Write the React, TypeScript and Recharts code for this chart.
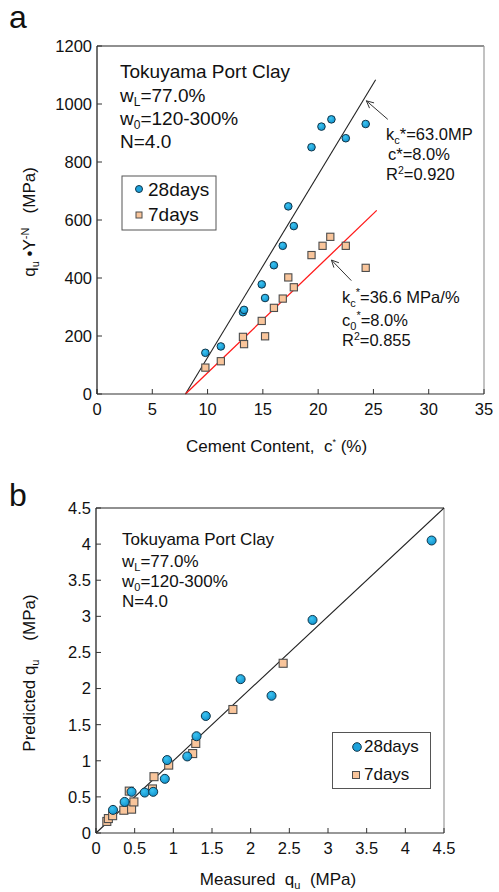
import React from 'react';
import { ScatterChart, Scatter, XAxis, YAxis, ReferenceLine } from 'recharts';

const FONT = '"Liberation Sans", Arial, Helvetica, sans-serif';

// ---- Panel a: q_u·Y^-N against cement content ----
const cement28 = [9.8, 11.2, 13.2, 13.3, 14.9, 15.2, 16.0, 16.8, 17.3, 17.8, 19.4, 20.3, 21.2, 22.5, 24.3];
const strength28 = [142, 164, 282, 290, 378, 331, 444, 511, 647, 579, 851, 922, 947, 882, 931];
const cement7 = [9.8, 11.2, 13.2, 13.3, 14.9, 15.2, 16.0, 16.8, 17.3, 17.8, 19.4, 20.4, 21.1, 22.5, 24.3];
const strength7 = [91, 113, 197, 172, 252, 199, 297, 329, 402, 368, 479, 511, 542, 511, 435];
const cementTicks = [0, 5, 10, 15, 20, 25, 30, 35];
const strengthTicks = [0, 200, 400, 600, 800, 1000, 1200];

// fitted lines: q = k (c - c0), drawn from c0 to cEnd
const fit28 = { k: 63.0, c0: 8.0, cEnd: 25.2 };
const fit7 = { k: 36.6, c0: 8.0, cEnd: 25.3 };

// arrows from the fit annotations to their lines [tail, head]
const arrow28 = [{ x: 26.3, y: 947 }, { x: 24.36, y: 1011 }];
const arrow7 = [{ x: 23.0, y: 391 }, { x: 21.2, y: 462 }];

// ---- Panel b: predicted against measured q_u ----
const measured28 = [0.22, 0.37, 0.46, 0.63, 0.74, 0.89, 0.92, 1.18, 1.30, 1.42, 1.87, 2.27, 2.80, 4.34];
const predicted28 = [0.32, 0.43, 0.57, 0.56, 0.57, 0.75, 1.01, 1.06, 1.34, 1.62, 2.13, 1.90, 2.95, 4.05];
const measured7 = [0.14, 0.16, 0.215, 0.36, 0.46, 0.49, 0.43, 0.73, 0.75, 0.94, 1.25, 1.29, 1.77, 2.42];
const predicted7 = [0.16, 0.2, 0.24, 0.315, 0.33, 0.43, 0.58, 0.61, 0.78, 0.94, 1.10, 1.24, 1.71, 2.35];
const quTicks = [0, 0.5, 1, 1.5, 2, 2.5, 3, 3.5, 4, 4.5];

const toPoints = (xs: number[], ys: number[]) => xs.map((x, i) => ({ x, y: ys[i] }));

const BLUE = '#1ea2db';
const BLUE_EDGE = '#103549';
const PEACH = '#f9c59b';
const PEACH_EDGE = '#4d4d4d';

const circleShape = (r: number) => (p: any) => (
  <circle cx={p.cx} cy={p.cy} r={r} fill="url(#ballFill)" stroke={BLUE_EDGE} strokeWidth={1} />
);
const squareShape = (s: number) => (p: any) => (
  <rect x={p.cx - s / 2} y={p.cy - s / 2} width={s} height={s} fill={PEACH} stroke={PEACH_EDGE} strokeWidth={1.1} />
);

const arrowShape = (p: any) => {
  const { x1, y1, x2, y2 } = p;
  const a = Math.atan2(y2 - y1, x2 - x1);
  const L = 8;
  const s = 0.45;
  return (
    <g stroke="#333" strokeWidth={1} fill="none">
      <line x1={x1} y1={y1} x2={x2} y2={y2} />
      <polyline
        points={`${x2 - L * Math.cos(a - s)},${y2 - L * Math.sin(a - s)} ${x2},${y2} ${x2 - L * Math.cos(a + s)},${y2 - L * Math.sin(a + s)}`}
      />
    </g>
  );
};

const tickStyle = { fill: '#111', fontSize: 16.5, fontFamily: FONT };

function PanelA() {
  const d28 = toPoints(cement28, strength28);
  const d7 = toPoints(cement7, strength7);
  return (
    <ScatterChart width={499} height={470} margin={{ top: 46, right: 15, bottom: 0, left: 0 }}>
      <defs>
        <radialGradient id="ballFill" cx="40%" cy="35%" r="70%">
          <stop offset="0%" stopColor="#3cc4f2" />
          <stop offset="100%" stopColor="#0f8fca" />
        </radialGradient>
      </defs>
      <XAxis
        type="number" dataKey="x" domain={[0, 35]} ticks={cementTicks} interval={0}
        height={76} tickSize={-5} tickMargin={14}
        axisLine={{ stroke: '#333', strokeWidth: 1.2 }} tickLine={{ stroke: '#333' }} tick={tickStyle}
      />
      <YAxis
        type="number" dataKey="y" domain={[0, 1200]} ticks={strengthTicks} interval={0}
        width={97} tickSize={-5} tickMargin={10}
        axisLine={{ stroke: '#111', strokeWidth: 1.2 }} tickLine={{ stroke: '#333' }} tick={tickStyle}
      />
      <ReferenceLine y={1200} stroke="#222" strokeWidth={1.2} />
      <ReferenceLine x={35} stroke="#999" strokeWidth={1.2} />
      <ReferenceLine
        segment={[{ x: fit28.c0, y: 0 }, { x: fit28.cEnd, y: fit28.k * (fit28.cEnd - fit28.c0) }]}
        stroke="#222" strokeWidth={1.1}
      />
      <ReferenceLine
        segment={[{ x: fit7.c0, y: 0 }, { x: fit7.cEnd, y: fit7.k * (fit7.cEnd - fit7.c0) }]}
        stroke="#ff1a1a" strokeWidth={1.3}
      />
      <ReferenceLine segment={arrow28} shape={arrowShape} />
      <ReferenceLine segment={arrow7} shape={arrowShape} />
      <Scatter data={d28} shape={circleShape(3.8)} isAnimationActive={false} />
      <Scatter data={d7} shape={squareShape(7.2)} isAnimationActive={false} />
    </ScatterChart>
  );
}

function PanelB() {
  const d28 = toPoints(measured28, predicted28);
  const d7 = toPoints(measured7, predicted7);
  return (
    <ScatterChart width={499} height={422} margin={{ top: 38, right: 55, bottom: 0, left: 0 }}>
      <XAxis
        type="number" dataKey="x" domain={[0, 4.5]} ticks={quTicks} interval={0}
        height={59} tickSize={-5} tickMargin={14}
        axisLine={{ stroke: '#333', strokeWidth: 1.2 }} tickLine={{ stroke: '#333' }} tick={tickStyle}
      />
      <YAxis
        type="number" dataKey="y" domain={[0, 4.5]} ticks={quTicks} interval={0}
        width={96} tickSize={-5} tickMargin={10}
        axisLine={{ stroke: '#111', strokeWidth: 1.2 }} tickLine={{ stroke: '#333' }} tick={tickStyle}
      />
      <ReferenceLine y={4.5} stroke="#222" strokeWidth={1.2} />
      <ReferenceLine x={4.5} stroke="#999" strokeWidth={1.2} />
      <ReferenceLine segment={[{ x: 0, y: 0 }, { x: 4.5, y: 4.5 }]} stroke="#222" strokeWidth={1.1} />
      <Scatter data={d7} shape={squareShape(8)} isAnimationActive={false} />
      <Scatter data={d28} shape={circleShape(4.5)} isAnimationActive={false} />
    </ScatterChart>
  );
}

const pre: React.CSSProperties = { whiteSpace: 'pre' };

function Annotations() {
  return (
    <svg width={499} height={892} style={{ position: 'absolute', left: 0, top: 0, pointerEvents: 'none' }}
      fontFamily={FONT} fill="#111">
      {/* panel letters */}
      <text x={9} y={28} fontSize={32}>a</text>
      <text x={9} y={506} fontSize={32}>b</text>

      {/* panel a: description */}
      <g fontSize={19}>
        <text x={120} y={78}>Tokuyama Port Clay</text>
        <text x={120} y={102}>w<tspan fontSize={12} dy={4}>L</tspan><tspan dy={-4}>=77.0%</tspan></text>
        <text x={120} y={125}>w<tspan fontSize={12} dy={4}>0</tspan><tspan dy={-4}>=120-300%</tspan></text>
        <text x={120} y={148}>N=4.0</text>
      </g>
      {/* panel a: legend */}
      <rect x={122} y={176} width={94} height={54} fill="#fff" stroke="#555" strokeWidth={1} />
      <circle cx={139} cy={189} r={3.5} fill={BLUE} stroke={BLUE_EDGE} strokeWidth={1} />
      <rect x={136} y={212} width={6} height={6} fill={PEACH} stroke={PEACH_EDGE} strokeWidth={1} />
      <text x={148} y={196} fontSize={19}>28days</text>
      <text x={148} y={221} fontSize={19}>7days</text>

      {/* panel a: fit annotations */}
      <g fontSize={16.5}>
        <text x={386} y={140}>k<tspan fontSize={11} dy={4}>c</tspan><tspan dy={-4}>*=63.0MP</tspan></text>
        <text x={388} y={160}>c*=8.0%</text>
        <text x={386} y={180}>R<tspan fontSize={10.5} dy={-6}>2</tspan><tspan dy={6}>=0.920</tspan></text>
        <text x={342} y={303} style={pre}>k<tspan fontSize={11} dy={4}>c</tspan><tspan fontSize={11} dy={-11}>*</tspan><tspan dy={7}>=36.6 MPa/%</tspan></text>
        <text x={342} y={326}>c<tspan fontSize={11} dy={4}>0</tspan><tspan fontSize={11} dy={-11}>*</tspan><tspan dy={7}>=8.0%</tspan></text>
        <text x={342} y={346}>R<tspan fontSize={10.5} dy={-6}>2</tspan><tspan dy={6}>=0.855</tspan></text>
      </g>

      {/* panel a: axis titles */}
      <text x={186} y={452} fontSize={17} style={pre}>Cement Content,  c<tspan fontSize={9} dy={-7}>*</tspan><tspan dy={7}> (%)</tspan></text>
      <text transform="translate(35 222) rotate(-90)" textAnchor="middle" fontSize={17} style={pre}>
        q<tspan fontSize={11} dy={4}>u</tspan><tspan dy={-4}> •Y</tspan><tspan fontSize={11} dy={-6}>-N</tspan><tspan dy={6}>   (MPa)</tspan>
      </text>

      {/* panel b: description */}
      <g fontSize={17}>
        <text x={122} y={545}>Tokuyama Port Clay</text>
        <text x={122} y={567}>w<tspan fontSize={11} dy={4}>L</tspan><tspan dy={-4}>=77.0%</tspan></text>
        <text x={122} y={587}>w<tspan fontSize={11} dy={4}>0</tspan><tspan dy={-4}>=120-300%</tspan></text>
        <text x={122} y={607}>N=4.0</text>
      </g>
      {/* panel b: legend */}
      <rect x={332.5} y={732.5} width={98} height={56} fill="#fff" stroke="#555" strokeWidth={1} />
      <circle cx={357} cy={747} r={4.3} fill={BLUE} stroke={BLUE_EDGE} strokeWidth={1} />
      <rect x={352.5} y={771.5} width={7} height={7} fill={PEACH} stroke={PEACH_EDGE} strokeWidth={1} />
      <text x={364} y={752} fontSize={17}>28days</text>
      <text x={364} y={780} fontSize={17}>7days</text>

      {/* panel b: axis titles */}
      <text x={278} y={885} textAnchor="middle" fontSize={17} style={pre}>
        Measured  q<tspan fontSize={11} dy={4}>u</tspan><tspan dy={-4}>  (MPa)</tspan>
      </text>
      <text transform="translate(35 673) rotate(-90)" textAnchor="middle" fontSize={17} style={pre}>
        Predicted q<tspan fontSize={11} dy={4}>u</tspan><tspan dy={-4}>    (MPa)</tspan>
      </text>
    </svg>
  );
}

export default function App() {
  return (
    <div style={{ position: 'absolute', left: 0, top: 0, width: 499, height: 892, background: '#fff' }}>
      <div style={{ position: 'absolute', left: 0, top: 0 }}>
        <PanelA />
      </div>
      <div style={{ position: 'absolute', left: 0, top: 470 }}>
        <PanelB />
      </div>
      <Annotations />
    </div>
  );
}
